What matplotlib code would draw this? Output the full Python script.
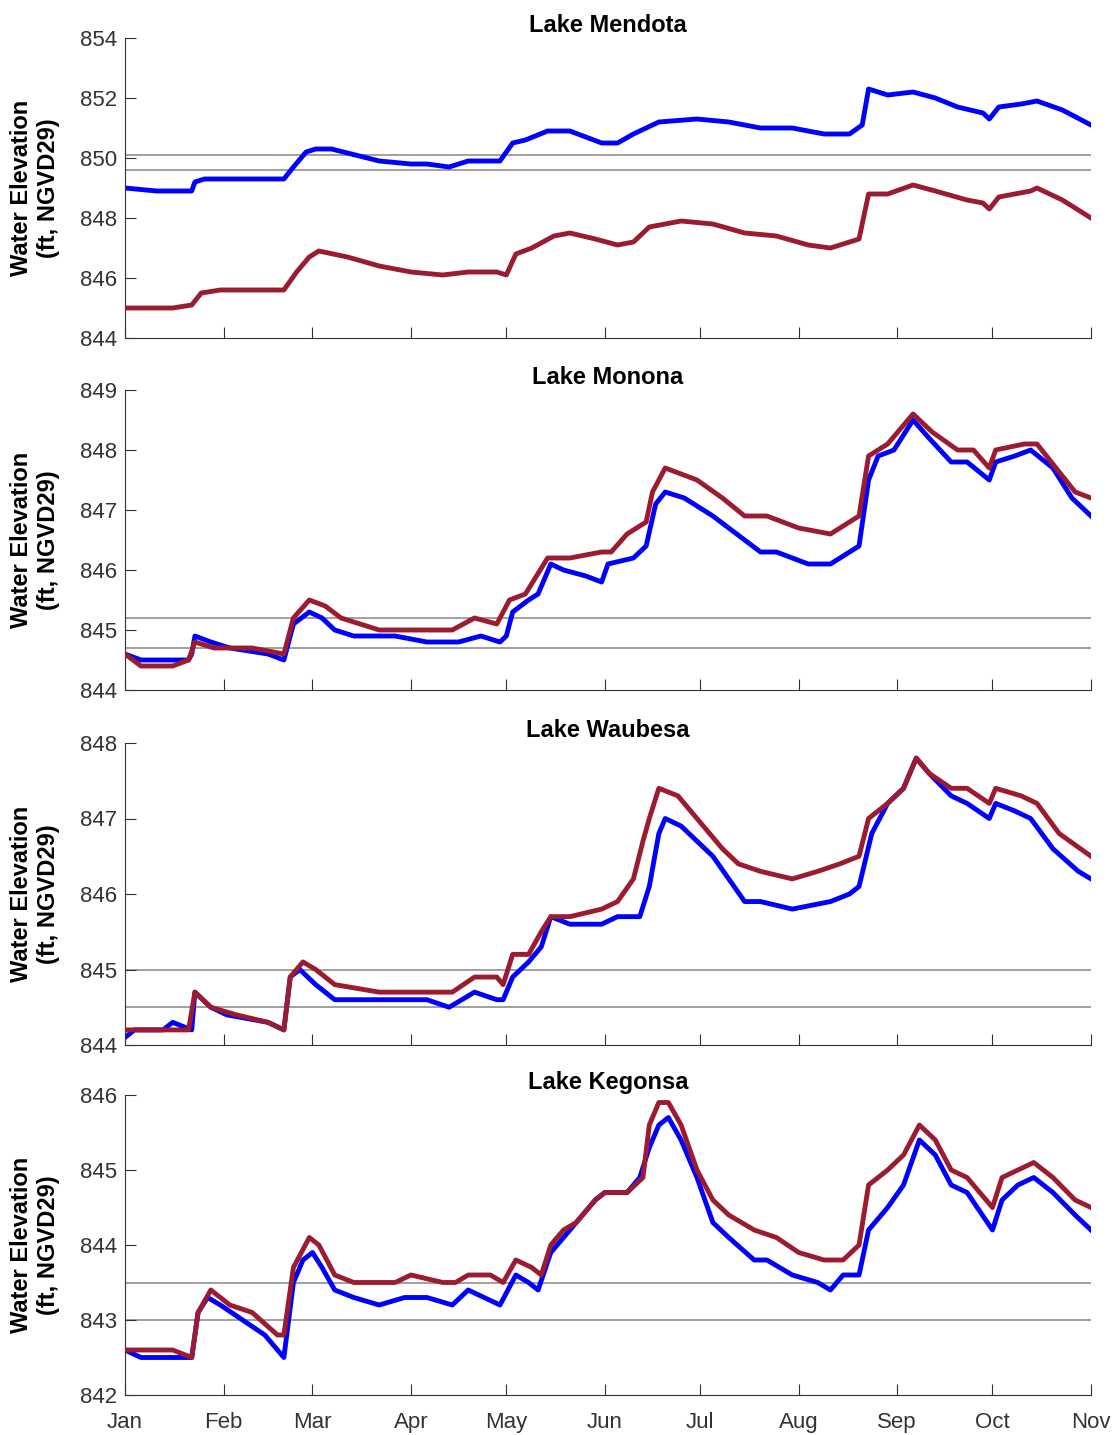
import matplotlib
matplotlib.use("Agg")
import matplotlib.pyplot as plt

plt.rcParams["font.family"] = ["Liberation Sans", "DejaVu Sans"]

month_days = [0, 31, 59, 90, 120, 151, 181, 212, 243, 273, 304]
month_labels = ["Jan", "Feb", "Mar", "Apr", "May", "Jun", "Jul", "Aug", "Sep", "Oct", "Nov"]

# Lake Mendota
mendota_blue_d = [0, 10, 21, 22, 25, 50, 53, 57, 60, 65, 80, 90, 95, 102, 108, 118, 122, 126, 133, 140, 145, 150, 155, 160, 168, 180, 190, 200, 210, 220, 228, 232, 234, 240, 248, 255, 262, 270, 272, 275, 282, 287, 295, 304]
mendota_blue_v = [849.0, 848.9, 848.9, 849.2, 849.3, 849.3, 849.7, 850.2, 850.3, 850.3, 849.9, 849.8, 849.8, 849.7, 849.9, 849.9, 850.5, 850.6, 850.9, 850.9, 850.7, 850.5, 850.5, 850.8, 851.2, 851.3, 851.2, 851.0, 851.0, 850.8, 850.8, 851.1, 852.3, 852.1, 852.2, 852.0, 851.7, 851.5, 851.3, 851.7, 851.8, 851.9, 851.6, 851.1]
mendota_red_d = [0, 15, 21, 24, 30, 50, 54, 58, 61, 70, 80, 90, 100, 108, 117, 120, 123, 128, 135, 140, 148, 155, 160, 165, 175, 185, 195, 205, 215, 222, 228, 231, 234, 240, 248, 255, 265, 270, 272, 275, 285, 287, 295, 304]
mendota_red_v = [845.0, 845.0, 845.1, 845.5, 845.6, 845.6, 846.2, 846.7, 846.9, 846.7, 846.4, 846.2, 846.1, 846.2, 846.2, 846.1, 846.8, 847.0, 847.4, 847.5, 847.3, 847.1, 847.2, 847.7, 847.9, 847.8, 847.5, 847.4, 847.1, 847.0, 847.2, 847.3, 848.8, 848.8, 849.1, 848.9, 848.6, 848.5, 848.3, 848.7, 848.9, 849.0, 848.6, 848.0]

# Lake Monona
monona_blue_d = [0, 5, 12, 20, 21, 22, 27, 33, 45, 50, 53, 58, 62, 66, 72, 85, 95, 105, 112, 118, 120, 122, 127, 130, 134, 138, 145, 150, 152, 160, 164, 167, 170, 176, 185, 195, 200, 205, 215, 222, 228, 231, 234, 237, 242, 248, 253, 260, 265, 272, 274, 280, 285, 292, 298, 304]
monona_blue_v = [844.6, 844.5, 844.5, 844.5, 844.6, 844.9, 844.8, 844.7, 844.6, 844.5, 845.1, 845.3, 845.2, 845.0, 844.9, 844.9, 844.8, 844.8, 844.9, 844.8, 844.9, 845.3, 845.5, 845.6, 846.1, 846.0, 845.9, 845.8, 846.1, 846.2, 846.4, 847.1, 847.3, 847.2, 846.9, 846.5, 846.3, 846.3, 846.1, 846.1, 846.3, 846.4, 847.5, 847.9, 848.0, 848.5, 848.2, 847.8, 847.8, 847.5, 847.8, 847.9, 848.0, 847.7, 847.2, 846.9]
monona_red_d = [0, 5, 15, 20, 22, 28, 40, 50, 53, 58, 63, 68, 80, 95, 103, 110, 117, 121, 126, 133, 140, 150, 153, 158, 164, 166, 170, 180, 188, 195, 202, 212, 222, 228, 231, 234, 240, 248, 254, 262, 267, 272, 274, 283, 287, 293, 299, 304]
monona_red_v = [844.6, 844.4, 844.4, 844.5, 844.8, 844.7, 844.7, 844.6, 845.2, 845.5, 845.4, 845.2, 845.0, 845.0, 845.0, 845.2, 845.1, 845.5, 845.6, 846.2, 846.2, 846.3, 846.3, 846.6, 846.8, 847.3, 847.7, 847.5, 847.2, 846.9, 846.9, 846.7, 846.6, 846.8, 846.9, 847.9, 848.1, 848.6, 848.3, 848.0, 848.0, 847.7, 848.0, 848.1, 848.1, 847.7, 847.3, 847.2]

# Lake Waubesa
waubesa_blue_d = [0, 3, 12, 15, 21, 22, 27, 32, 45, 50, 52, 55, 60, 66, 80, 95, 102, 110, 117, 119, 122, 127, 131, 134, 140, 150, 155, 162, 165, 168, 170, 175, 185, 190, 195, 200, 210, 222, 228, 231, 235, 240, 245, 249, 253, 260, 265, 272, 274, 280, 285, 292, 300, 304]
waubesa_blue_v = [844.1, 844.2, 844.2, 844.3, 844.2, 844.7, 844.5, 844.4, 844.3, 844.2, 844.9, 845.0, 844.8, 844.6, 844.6, 844.6, 844.5, 844.7, 844.6, 844.6, 844.9, 845.1, 845.3, 845.7, 845.6, 845.6, 845.7, 845.7, 846.1, 846.8, 847.0, 846.9, 846.5, 846.2, 845.9, 845.9, 845.8, 845.9, 846.0, 846.1, 846.8, 847.2, 847.4, 847.8, 847.6, 847.3, 847.2, 847.0, 847.2, 847.1, 847.0, 846.6, 846.3, 846.2]
waubesa_red_d = [0, 10, 20, 22, 27, 35, 45, 50, 52, 56, 60, 66, 80, 95, 103, 110, 117, 119, 122, 127, 131, 134, 140, 150, 155, 160, 163, 165, 168, 174, 180, 188, 193, 200, 210, 218, 225, 231, 234, 240, 245, 249, 253, 260, 265, 272, 274, 282, 287, 294, 304]
waubesa_red_v = [844.2, 844.2, 844.2, 844.7, 844.5, 844.4, 844.3, 844.2, 844.9, 845.1, 845.0, 844.8, 844.7, 844.7, 844.7, 844.9, 844.9, 844.8, 845.2, 845.2, 845.5, 845.7, 845.7, 845.8, 845.9, 846.2, 846.7, 847.0, 847.4, 847.3, 847.0, 846.6, 846.4, 846.3, 846.2, 846.3, 846.4, 846.5, 847.0, 847.2, 847.4, 847.8, 847.6, 847.4, 847.4, 847.2, 847.4, 847.3, 847.2, 846.8, 846.5]

# Lake Kegonsa
kegonsa_blue_d = [0, 5, 12, 18, 21, 23, 26, 30, 37, 44, 50, 53, 56, 59, 62, 66, 72, 80, 88, 95, 103, 108, 113, 118, 123, 127, 130, 134, 138, 142, 148, 151, 158, 162, 165, 168, 171, 175, 180, 185, 190, 198, 202, 210, 218, 222, 226, 231, 234, 240, 245, 250, 255, 260, 265, 273, 276, 281, 286, 292, 299, 304]
kegonsa_blue_v = [842.6, 842.5, 842.5, 842.5, 842.5, 843.1, 843.3, 843.2, 843.0, 842.8, 842.5, 843.5, 843.8, 843.9, 843.7, 843.4, 843.3, 843.2, 843.3, 843.3, 843.2, 843.4, 843.3, 843.2, 843.6, 843.5, 843.4, 843.9, 844.1, 844.3, 844.6, 844.7, 844.7, 844.9, 845.3, 845.6, 845.7, 845.4, 844.9, 844.3, 844.1, 843.8, 843.8, 843.6, 843.5, 843.4, 843.6, 843.6, 844.2, 844.5, 844.8, 845.4, 845.2, 844.8, 844.7, 844.2, 844.6, 844.8, 844.9, 844.7, 844.4, 844.2]
kegonsa_red_d = [0, 8, 15, 21, 23, 27, 33, 40, 48, 50, 53, 58, 61, 66, 72, 85, 90, 100, 104, 108, 115, 119, 123, 128, 131, 134, 138, 142, 148, 151, 158, 163, 165, 168, 171, 175, 180, 185, 190, 198, 205, 212, 220, 226, 231, 234, 240, 245, 250, 255, 260, 265, 273, 276, 281, 286, 292, 299, 304]
kegonsa_red_v = [842.6, 842.6, 842.6, 842.5, 843.1, 843.4, 843.2, 843.1, 842.8, 842.8, 843.7, 844.1, 844.0, 843.6, 843.5, 843.5, 843.6, 843.5, 843.5, 843.6, 843.6, 843.5, 843.8, 843.7, 843.6, 844.0, 844.2, 844.3, 844.6, 844.7, 844.7, 844.9, 845.6, 845.9, 845.9, 845.6, 845.0, 844.6, 844.4, 844.2, 844.1, 843.9, 843.8, 843.8, 844.0, 844.8, 845.0, 845.2, 845.6, 845.4, 845.0, 844.9, 844.5, 844.9, 845.0, 845.1, 844.9, 844.6, 844.5]

lakes = [
    ("Lake Mendota", mendota_blue_d, mendota_blue_v, mendota_red_d, mendota_red_v, (844, 854), [849.6, 850.1]),
    ("Lake Monona", monona_blue_d, monona_blue_v, monona_red_d, monona_red_v, (844, 849), [844.7, 845.2]),
    ("Lake Waubesa", waubesa_blue_d, waubesa_blue_v, waubesa_red_d, waubesa_red_v, (844, 848), [844.5, 845.0]),
    ("Lake Kegonsa", kegonsa_blue_d, kegonsa_blue_v, kegonsa_red_d, kegonsa_red_v, (842, 846), [843.0, 843.5]),
]

W, H = 1119, 1435
fig = plt.figure(figsize=(W / 100, H / 100), dpi=100)
tops = [38, 390, 743, 1095]
heights = [300, 300, 302, 300]

for i, (name, bd, bv, rd, rv, ylim, refs) in enumerate(lakes):
    ax = fig.add_axes([125 / W, 1 - (tops[i] + heights[i]) / H, 966 / W, heights[i] / H])
    for r in refs:
        ax.axhline(r, color="#909090", lw=1.2, zorder=1)
    ax.plot(rd, rv, color="#9b1b30", lw=3.5, zorder=3, solid_joinstyle="round")
    ax.plot(bd, bv, color="#0000ff", lw=3.5, zorder=2, solid_joinstyle="round")
    ax.set_xlim(0, 304)
    ax.set_ylim(*ylim)
    ax.set_xticks(month_days)
    ax.set_xticklabels(month_labels if i == 3 else [])
    ax.set_yticks(range(ylim[0], ylim[1] + 1, 2 if i == 0 else 1))
    ax.tick_params(axis="both", direction="in", labelsize=16, colors="#333333", length=8)
    ax.tick_params(axis="x", pad=12)
    ax.tick_params(axis="y", pad=6)
    for s in ["top", "right"]:
        ax.spines[s].set_visible(False)
    for s in ["left", "bottom"]:
        ax.spines[s].set_color("#333333")
    ax.set_title(name, fontsize=17, fontweight="bold", pad=4)
    ax.set_ylabel("Water Elevation\n(ft, NGVD29)", fontsize=17, fontweight="bold", labelpad=14)

fig.savefig("out.png", dpi=100)
